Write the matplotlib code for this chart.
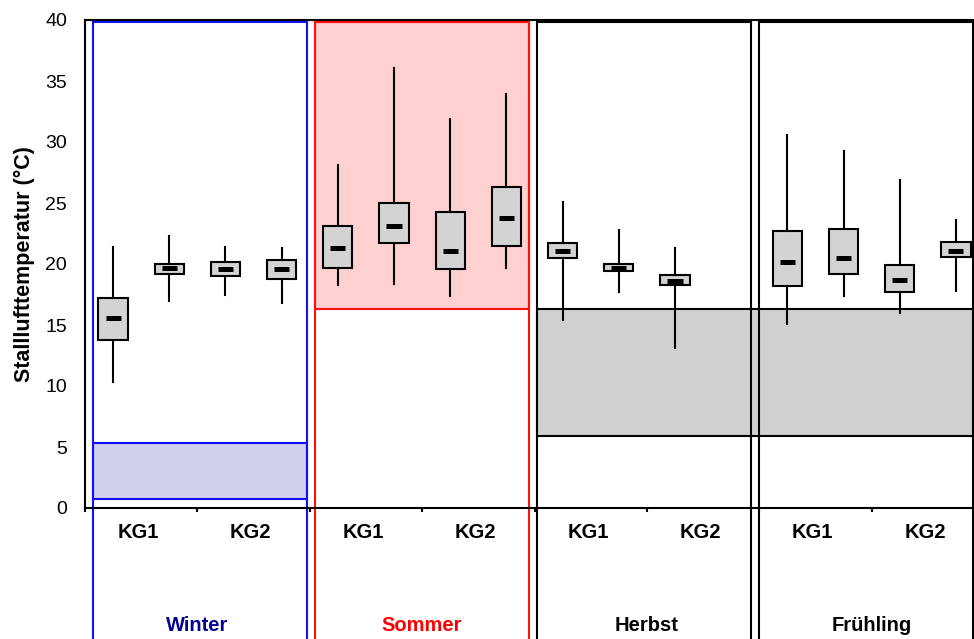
import numpy as np
import matplotlib.pyplot as plt
import matplotlib.patches as patches

plt.rcParams['font.family'] = ['Liberation Sans', 'DejaVu Sans']

seasons = ["Winter", "Sommer", "Herbst", "Frühling"]
season_text_colors = ["#000099", "#ff0000", "black", "black"]
season_frame_colors = ["#1010ff", "#ff1010", "black", "black"]
groups = ["KG1", "KG2"]

# 4 Boxen je Jahreszeit (Herbst hat nur 3 -> nan)
whisker_low = [10.3, 17.0, 17.5, 16.8, 18.3, 18.4, 17.4, 19.7,
               15.4, 17.7, 13.1, np.nan, 15.1, 17.4, 16.0, 17.8]
q1 = [13.8, 19.2, 19.0, 18.8, 19.7, 21.7, 19.6, 21.5,
      20.5, 19.4, 18.3, np.nan, 18.2, 19.2, 17.7, 20.6]
median = [15.6, 19.7, 19.6, 19.6, 21.3, 23.1, 21.1, 23.8,
          21.1, 19.7, 18.6, np.nan, 20.2, 20.5, 18.7, 21.1]
q3 = [17.2, 20.0, 20.2, 20.3, 23.1, 25.0, 24.3, 26.3,
      21.7, 20.0, 19.1, np.nan, 22.7, 22.9, 19.9, 21.8]
whisker_high = [21.4, 22.3, 21.4, 21.3, 28.1, 36.1, 31.9, 33.9,
                25.1, 22.8, 21.3, np.nan, 30.6, 29.3, 26.9, 23.6]

# Bereiche (°C)
winter_band = (0.7, 5.3)
summer_band = (16.35, 39.86)
autumn_spring_band = (5.94, 16.35)

fig = plt.figure(figsize=(9.74, 6.39), dpi=100)
ax = fig.add_axes([85 / 974, 1 - 508 / 639, 899 / 974, 488 / 639])
ax.set_xlim(0, 16)
ax.set_ylim(0, 40)

# Rahmen je Jahreszeit
frame_left = [0.14, 4.09, 8.04, 11.99]
frame_width = 3.81
frame_top = 39.86
frame_bottom = -14

# Füllungen
x0 = frame_left[0]
ax.add_patch(patches.Rectangle((x0, winter_band[0]), frame_width,
                               winter_band[1] - winter_band[0],
                               fc="#d0d0ec", ec="#1010ff", lw=1.5, zorder=1))
x1 = frame_left[1]
ax.add_patch(patches.Rectangle((x1, summer_band[0]), frame_width,
                               summer_band[1] - summer_band[0],
                               fc="#ffd0d0", ec="#ff1010", lw=1.5, zorder=1))
x2 = frame_left[2]
ax.add_patch(patches.Rectangle((x2, autumn_spring_band[0]),
                               frame_left[3] + frame_width - x2,
                               autumn_spring_band[1] - autumn_spring_band[0],
                               fc="#d0d0d0", ec="black", lw=1.5, zorder=1))

for i, season in enumerate(seasons):
    ax.add_patch(patches.Rectangle((frame_left[i], frame_bottom), frame_width,
                                   frame_top - frame_bottom, fill=False,
                                   ec=season_frame_colors[i], lw=1.5,
                                   clip_on=False, zorder=2))
    ax.text(4 * i + 2, -9.65, season, ha="center", va="center",
            fontsize=14.5, fontweight="bold", color=season_text_colors[i])
    for j, g in enumerate(groups):
        ax.text(4 * i + 2 * j + 0.95, -2.0, g, ha="center", va="center",
                fontsize=14.5, fontweight="bold")

# Boxplots
stats = []
pos = []
for k in range(len(median)):
    if np.isnan(median[k]):
        continue
    stats.append(dict(whislo=whisker_low[k], q1=q1[k], med=median[k],
                      q3=q3[k], whishi=whisker_high[k]))
    pos.append(k + 0.5)

ax.bxp(stats, positions=pos, widths=0.52, patch_artist=True,
       showcaps=False, showfliers=False, manage_ticks=False,
       boxprops=dict(facecolor="#d3d3d3", edgecolor="black", linewidth=1.5),
       whiskerprops=dict(color="black", linewidth=1.5),
       medianprops=dict(linewidth=0), zorder=3)

med = [median[int(p)] for p in pos]
ax.hlines(med, np.array(pos) - 0.135, np.array(pos) + 0.135,
          colors="black", linewidth=3.6, zorder=4)

for s in ax.spines.values():
    s.set_linewidth(1.5)
ax.spines["top"].set_zorder(5)

ax.set_yticks(np.arange(0, 41, 5))
ax.tick_params(axis="y", length=0, pad=13, labelsize=14)
ax.set_xticks(np.arange(0, 17, 2))
ax.set_xticklabels([])
ax.tick_params(axis="x", direction="out", length=3, width=1.5)

ax.set_ylabel("Stalllufttemperatur (°C)", fontsize=15.5, fontweight="bold",
              labelpad=7)

fig.savefig("out.png", dpi=100)
